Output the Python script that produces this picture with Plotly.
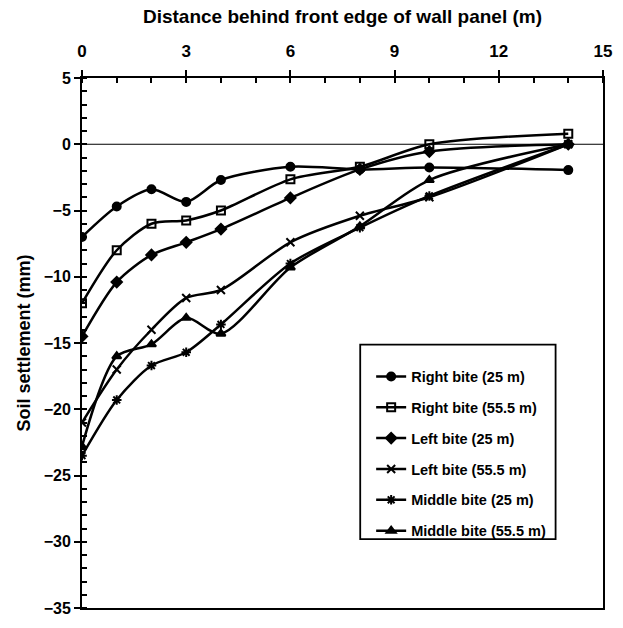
import plotly.graph_objects as go

x = [0, 1, 2, 3, 4, 6, 8, 10, 14]
right_25 = [-7.0, -4.7, -3.4, -4.35, -2.7, -1.7, -1.9, -1.75, -1.95]
right_55 = [-12.0, -8.0, -6.0, -5.75, -5.0, -2.65, -1.7, 0.0, 0.8]
left_25 = [-14.5, -10.4, -8.35, -7.4, -6.4, -4.05, -1.9, -0.55, 0.0]
left_55 = [-21.0, -17.0, -14.0, -11.6, -11.0, -7.4, -5.4, -4.0, 0.0]
middle_25 = [-23.5, -19.3, -16.7, -15.7, -13.6, -9.0, -6.3, -3.9, 0.0]
middle_55 = [-22.8, -16.0, -15.1, -13.1, -14.3, -9.3, -6.2, -2.7, 0.0]

series = [
    ("Right bite (25 m)", right_25, "circle"),
    ("Right bite (55.5 m)", right_55, "square-open"),
    ("Left bite (25 m)", left_25, "diamond"),
    ("Left bite (55.5 m)", left_55, "x-thin-open"),
    ("Middle bite (25 m)", middle_25, "asterisk-open"),
    ("Middle bite (55.5 m)", middle_55, "triangle-up"),
]

FONT = "Liberation Sans, Arial, sans-serif"

fig = go.Figure()
for i, (name, ys, sym) in enumerate(series):
    fig.add_trace(go.Scatter(
        x=x, y=ys, name=name, mode="lines+markers", legendgroup=f"g{i}",
        line=dict(color="black", width=2.5, shape="spline", smoothing=0.8),
        marker=dict(symbol=sym, size=8, color="black",
                    line=dict(color="black", width=2)),
    ))

fig.add_hline(y=0, line=dict(color="black", width=1))

# legend frame
fig.add_shape(type="rect", xref="paper", yref="paper",
              x0=0.534, x1=0.909, y0=0.13, y1=0.497,
              line=dict(color="black", width=1.8), fillcolor="white", layer="above")

fig.update_layout(
    width=623, height=628,
    margin=dict(l=82, r=11, t=78, b=11),
    paper_bgcolor="white", plot_bgcolor="white",
    font=dict(family=FONT, color="black", size=14),
    showlegend=True,
    legend=dict(
        x=0.555, y=0.467, xanchor="left", yanchor="top",
        borderwidth=0, bgcolor="rgba(0,0,0,0)",
        font=dict(family=FONT, size=14.5, color="black", weight="bold"),
        tracegroupgap=9, itemwidth=30,
    ),
    xaxis=dict(
        side="top", range=[0, 15], tickvals=[0, 3, 6, 9, 12, 15],
        showgrid=False, zeroline=False,
        showline=True, linecolor="black", linewidth=2, mirror=True,
        ticks="outside", ticklen=6, tickwidth=1.5, tickcolor="black",
        ticklabelstandoff=6,
        tickfont=dict(family=FONT, size=17, weight="bold"),
        minor=dict(dtick=1, ticks="inside", ticklen=5, tickwidth=1.5, tickcolor="black"),
        title=dict(text="Distance behind front edge of wall panel (m)",
                   font=dict(family=FONT, size=19, weight="bold"), standoff=14),
    ),
    yaxis=dict(
        range=[-35, 5], tickvals=list(range(-35, 6, 5)),
        showgrid=False, zeroline=False,
        showline=True, linecolor="black", linewidth=2, mirror=True,
        ticks="outside", ticklen=6, tickwidth=1.5, tickcolor="black",
        tickfont=dict(family=FONT, size=16, weight="bold"),
        minor=dict(dtick=1, ticks="inside", ticklen=5, tickwidth=1.5, tickcolor="black"),
        title=dict(text="Soil settlement (mm)",
                   font=dict(family=FONT, size=18, weight="bold"), standoff=8),
    ),
)

fig.write_html("out.html")
